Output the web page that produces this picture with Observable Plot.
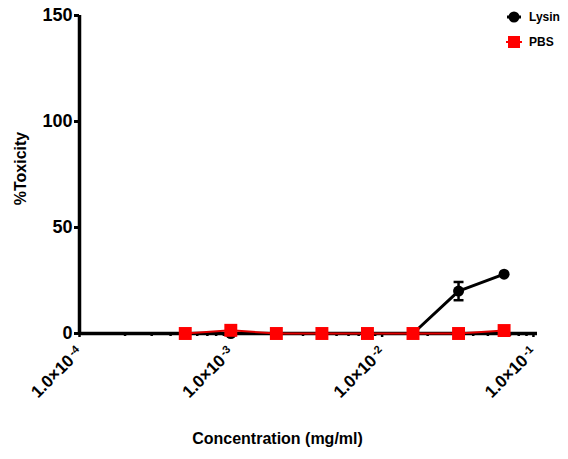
<!DOCTYPE html>
<html>
<head>
<meta charset="utf-8">
<script src="https://cdn.jsdelivr.net/npm/d3@7"></script>
<script src="https://cdn.jsdelivr.net/npm/@observablehq/plot@0.6"></script>
<style>
  html, body { margin: 0; padding: 0; background: #fff; }
  #wrap { position: relative; width: 568px; height: 459px; font-family: "Liberation Sans", Arial, sans-serif; }
  .legend { position: absolute; left: 503px; font-weight: bold; font-size: 12px; display: flex; align-items: center; }
  .legend svg { margin-right: 4px; }
  g[aria-label="y-axis tick label"], g[aria-label="y-axis tick label"] text { font-size: 18px !important; font-weight: bold; }
</style>
</head>
<body>
<div id="wrap"></div>
<script>
// Data
const concentrations = [0.0005, 0.001, 0.002, 0.004, 0.008, 0.016, 0.032, 0.064];
const lysin = [0, 0, 0, 0, 0, 0, 20, 28];
const lysinErr = [0, 0, 0, 0, 0, 0, 4.3, 0];
const pbs = [0, 1.5, 0, 0, 0, 0, 0, 1.4];
const xMajorTicks = [1e-4, 1e-3, 1e-2, 1e-1];
const yTicks = [0, 50, 100, 150];
const seriesNames = ["Lysin", "PBS"];

const lysinData = concentrations.map((c, i) => ({x: c, y: lysin[i], e: lysinErr[i]}));
const pbsData = concentrations.map((c, i) => ({x: c, y: pbs[i]}));
const errData = lysinData.filter(d => d.e > 0);
const xMinorTicks = [];
for (let k = -4; k <= -2; k++) for (let m = 2; m <= 9; m++) xMinorTicks.push(m * Math.pow(10, k));

const xDomain = [1e-4, 0.1064];
const hline = {draw(ctx, size) { const w = Math.sqrt(size) / 2; ctx.moveTo(-w, 0); ctx.lineTo(w, 0); }};

const plot = Plot.plot({
  width: 568,
  height: 459,
  marginLeft: 79,
  marginRight: 31,
  marginTop: 15,
  marginBottom: 126,
  style: {fontFamily: "'Liberation Sans', Arial, sans-serif", background: "white", overflow: "visible"},
  x: {type: "log", domain: xDomain},
  y: {domain: [0, 150]},
  marks: [
    Plot.axisX(xMinorTicks, {tickSize: 3, tickFormat: () => "", strokeWidth: 2.5, label: null}),
    Plot.axisX(xMajorTicks, {tickSize: 4, strokeWidth: 2.5, tickRotate: -45, tickPadding: 12,
      tickFormat: d => "1.0×10^" + Math.round(Math.log10(d)),
      label: null}),
    Plot.axisY(yTicks, {tickSize: 5, strokeWidth: 3, tickPadding: 2, fontSize: 18, fontWeight: "bold", label: null}),
    Plot.ruleX([xDomain[0]], {y1: 0, y2: 150, strokeWidth: 3.5}),
    Plot.ruleY([0], {strokeWidth: 3.5}),
    Plot.text(["%Toxicity"], {frameAnchor: "left", textAnchor: "middle", rotate: -90, dx: -59, dy: -6, fontSize: 16, fontWeight: "bold"}),
    Plot.text(["Concentration (mg/ml)"], {frameAnchor: "bottom", dx: -31, dy: 110, fontSize: 16, fontWeight: "bold"}),
    // Lysin
    Plot.line(lysinData, {x: "x", y: "y", stroke: "black", strokeWidth: 3}),
    Plot.ruleX(errData, {x: "x", y1: d => d.y - d.e, y2: d => d.y + d.e, stroke: "black", strokeWidth: 2.5}),
    Plot.dot(errData, {x: "x", y: d => d.y + d.e, symbol: hline, r: 5.6, stroke: "black", strokeWidth: 2.5}),
    Plot.dot(errData, {x: "x", y: d => d.y - d.e, symbol: hline, r: 5.6, stroke: "black", strokeWidth: 2.5}),
    Plot.dot(lysinData, {x: "x", y: "y", r: 5.5, fill: "black", symbol: "circle"}),
    // PBS
    Plot.line(pbsData, {x: "x", y: "y", stroke: "#e00000", strokeWidth: 2}),
    Plot.dot(pbsData, {x: "x", y: "y", r: 7.3, fill: "red", symbol: "square"})
  ]
});

// style tick labels; superscript exponents on x tick labels
d3.select(plot).selectAll("text").each(function() {
  const t = this.textContent.trim();
  const sel = d3.select(this);
  if (t.startsWith("1.0×10^")) {
    const exp = t.split("^")[1];
    sel.text(null)
      .style("font-size", "17px").style("font-weight", "bold");
    sel.append("tspan").text("1.0×10");
    sel.append("tspan").attr("dy", "-0.45em").attr("dx", "2").style("font-size", "11px").text(exp);
  } else if (/^\d+$/.test(t)) {
    sel.attr("font-size", "18").style("font-size", "18px").style("font-weight", "bold");
  }
});

const wrap = document.getElementById("wrap");
wrap.appendChild(plot);

// legend
const legendItems = [
  {name: seriesNames[0], top: 10, svg: '<svg width="22" height="14"><line x1="4" y1="7" x2="18" y2="7" stroke="black" stroke-width="3"/><circle cx="11" cy="7" r="5.5" fill="black"/></svg>'},
  {name: seriesNames[1], top: 35, svg: '<svg width="22" height="14"><line x1="3" y1="7" x2="19" y2="7" stroke="red" stroke-width="2"/><rect x="5" y="1" width="12" height="12" fill="red"/></svg>'}
];
for (const it of legendItems) {
  const div = document.createElement("div");
  div.className = "legend";
  div.style.top = it.top + "px";
  div.innerHTML = it.svg + "<span>" + it.name + "</span>";
  wrap.appendChild(div);
}
</script>
</body>
</html>
